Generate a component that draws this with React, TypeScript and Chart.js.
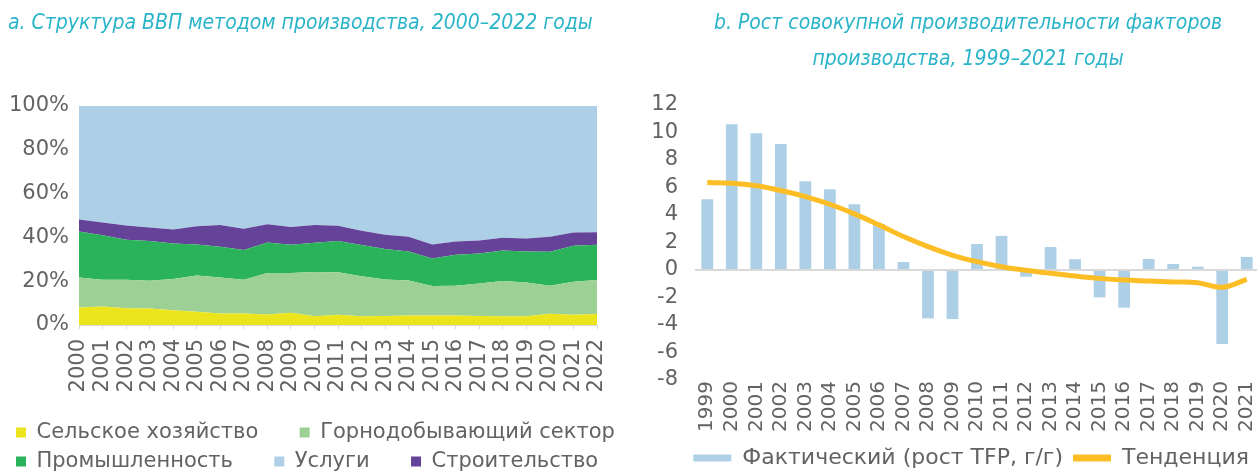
import React, { useEffect, useRef } from "react";
import { Chart, registerables } from "chart.js";

Chart.register(...registerables);

// ---------- Chart a: GDP structure (shares, %) ----------
const YEARS_A = [
  "2000", "2001", "2002", "2003", "2004", "2005", "2006", "2007", "2008", "2009", "2010", "2011",
  "2012", "2013", "2014", "2015", "2016", "2017", "2018", "2019", "2020", "2021", "2022",
];
const AGRICULTURE = [8.0, 8.5, 7.7, 7.5, 6.7, 6.1, 5.2, 5.2, 4.8, 5.6, 4.0, 4.7, 4.0, 4.1, 4.3, 4.3, 4.3, 4.1, 4.0, 4.0, 5.1, 4.7, 5.0];
const MINING = [13.7, 12.2, 13.0, 12.7, 14.3, 16.5, 16.5, 15.5, 19.0, 18.1, 20.2, 19.4, 18.3, 16.7, 16.0, 13.5, 13.6, 14.9, 16.1, 15.4, 12.8, 15.0, 15.6];
const INDUSTRY = [21.0, 20.3, 18.2, 18.1, 16.2, 14.2, 14.0, 13.5, 13.9, 12.9, 13.4, 14.2, 14.2, 13.9, 13.3, 12.6, 14.2, 13.7, 13.9, 14.2, 15.5, 16.5, 16.0];
const CONSTRUCTION = [5.5, 5.8, 6.5, 6.2, 6.4, 8.3, 10.0, 9.7, 8.3, 8.1, 8.1, 7.0, 6.5, 6.5, 6.7, 6.4, 6.0, 5.9, 5.8, 5.9, 6.9, 6.0, 5.8];
const SERVICES = [51.8, 53.2, 54.6, 55.5, 56.4, 54.9, 54.3, 56.1, 54.0, 55.3, 54.3, 54.7, 57.0, 58.8, 59.7, 63.2, 61.9, 61.4, 60.2, 60.5, 59.7, 57.8, 57.6];
const SHARE_MIN = 0;
const SHARE_MAX = 100;
const SHARE_STEP = 20;

// ---------- Chart b: TFP growth ----------
const YEARS_B = [
  "1999", "2000", "2001", "2002", "2003", "2004", "2005", "2006", "2007", "2008", "2009", "2010",
  "2011", "2012", "2013", "2014", "2015", "2016", "2017", "2018", "2019", "2020", "2021",
];
const TFP_ACTUAL = [5.15, 10.6, 9.95, 9.17, 6.46, 5.87, 4.78, 3.35, 0.58, -3.52, -3.57, 1.89, 2.48, -0.49, 1.67, 0.78, -1.99, -2.74, 0.8, 0.44, 0.24, -5.39, 0.95];
const TFP_TREND = [6.36, 6.31, 6.12, 5.78, 5.34, 4.78, 4.08, 3.28, 2.43, 1.7, 1.07, 0.61, 0.24, -0.02, -0.24, -0.44, -0.61, -0.73, -0.8, -0.87, -0.92, -1.26, -0.68];
const TFP_MIN = -8;
const TFP_MAX = 12;
const TFP_STEP = 2;

const TITLE_A = "a. Структура ВВП методом производства, 2000–2022 годы";
const TITLE_B = ["b. Рост совокупной производительности факторов", "производства, 1999–2021 годы"];

const TEXT_FONT = "'DejaVu Sans', 'Noto Sans', sans-serif";
const TITLE_FONT = "'Liberation Sans Narrow', 'DejaVu Sans Condensed', 'Roboto', sans-serif";
const TEXT_COLOR = "#636363";
const TITLE_COLOR = "#2ab4c9";

const C_YELLOW = "#ece51e";
const C_MINING = "#9dd094";
const C_INDUSTRY = "#2bb35b";
const C_CONSTR = "#654399";
const C_SERVICES = "#aed0e7";
const C_BAR = "#aed0e7";
const C_TREND = "#fdbd24";

if (typeof document !== "undefined") {
  document.body.style.margin = "0";
}

const LEGEND_ORDER_A = [0, 1, 2, 4, 3];
const ROW_GAP_ITEMS_A = [0, 2, 4];
const NBSP = "\u00a0\u00a0\u00a0\u00a0\u00a0";

function ChartA() {
  const ref = useRef<HTMLCanvasElement | null>(null);
  useEffect(() => {
    if (!ref.current) return;
    const base = { borderWidth: 0, pointRadius: 0, pointHoverRadius: 0, tension: 0 };
    const chart = new Chart(ref.current, {
      type: "line",
      data: {
        labels: YEARS_A,
        datasets: [
          { ...base, label: "Сельское хозяйство", data: AGRICULTURE, backgroundColor: C_YELLOW, borderColor: C_YELLOW, fill: "origin" },
          { ...base, label: "Горнодобывающий сектор", data: MINING, backgroundColor: C_MINING, borderColor: C_MINING, fill: "-1" },
          { ...base, label: "Промышленность", data: INDUSTRY, backgroundColor: C_INDUSTRY, borderColor: C_INDUSTRY, fill: "-1" },
          { ...base, label: "Строительство", data: CONSTRUCTION, backgroundColor: C_CONSTR, borderColor: C_CONSTR, fill: "-1" },
          { ...base, label: "Услуги", data: SERVICES, backgroundColor: C_SERVICES, borderColor: C_SERVICES, fill: "-1" },
        ],
      },
      options: {
        responsive: false,
        animation: false,
        layout: { padding: { left: 8, right: 0, top: 0, bottom: 0 } },
        scales: {
          x: {
            offset: false,
            grid: { display: true, drawOnChartArea: false, drawTicks: true, tickLength: 4, color: "#d9d9d9" },
            border: { display: true, color: "#d9d9d9" },
            ticks: { autoSkip: false, maxRotation: 90, minRotation: 90, padding: 10, color: TEXT_COLOR, font: { family: TEXT_FONT, size: 21 } },
            afterFit: (s: any) => { s.height = 89; },
          },
          y: {
            stacked: true,
            min: SHARE_MIN,
            max: SHARE_MAX,
            grid: { display: false, drawTicks: false },
            border: { display: false },
            ticks: { autoSkip: false, stepSize: SHARE_STEP, padding: 10, color: TEXT_COLOR, font: { family: TEXT_FONT, size: 21 }, callback: (v: any) => v + "%" },
            afterFit: (s: any) => { s.width = 71; },
          },
          yRight: {
            position: "right",
            display: true,
            min: SHARE_MIN,
            max: SHARE_MAX,
            grid: { display: false, drawTicks: false },
            border: { display: false },
            ticks: { display: false },
            afterFit: (s: any) => { s.width = 48; },
          },
        },
        plugins: {
          tooltip: { enabled: false },
          title: {
            display: true,
            text: TITLE_A,
            align: "start",
            color: TITLE_COLOR,
            font: { family: TITLE_FONT, size: 21, style: "italic", weight: "normal", lineHeight: 1.714 },
            padding: { top: 6, bottom: 64 },
          },
          legend: {
            position: "bottom",
            align: "start",
            labels: {
              boxWidth: 10,
              boxHeight: 10,
              padding: 8,
              color: TEXT_COLOR,
              font: { family: TEXT_FONT, size: 21 },
              sort: (a: any, b: any) => LEGEND_ORDER_A.indexOf(a.datasetIndex) - LEGEND_ORDER_A.indexOf(b.datasetIndex),
              generateLabels: (ch: any) =>
                (Chart.defaults.plugins.legend.labels.generateLabels as any)(ch).map((it: any) => ({
                  ...it,
                  text: ROW_GAP_ITEMS_A.includes(it.datasetIndex) ? it.text + NBSP : it.text,
                  lineWidth: 0,
                  strokeStyle: "rgba(0,0,0,0)",
                })),
            },
          },
        },
      } as any,
    });
    return () => chart.destroy();
  }, []);
  return <canvas ref={ref} width={645} height={482} style={{ display: "block" }} />;
}

const shiftTitle = {
  id: "shiftTitle",
  afterLayout(chart: any) {
    const t = chart.titleBlock;
    if (t) {
      t.left = 39;
      t.right = 617;
    }
  },
};

function ChartB() {
  const ref = useRef<HTMLCanvasElement | null>(null);
  useEffect(() => {
    if (!ref.current) return;
    const chart = new Chart(ref.current, {
      type: "bar",
      data: {
        labels: YEARS_B,
        datasets: [
          {
            type: "bar",
            label: "Фактический (рост TFP, г/г)",
            data: TFP_ACTUAL,
            backgroundColor: C_BAR,
            borderWidth: 0,
            barPercentage: 0.48,
            categoryPercentage: 1,
            order: 1,
          },
          {
            type: "line",
            label: "Тенденция",
            data: TFP_TREND,
            borderColor: C_TREND,
            backgroundColor: C_TREND,
            borderWidth: 5,
            pointRadius: 0,
            pointHoverRadius: 0,
            tension: 0.4,
            fill: false,
            order: 0,
          },
        ],
      },
      options: {
        responsive: false,
        animation: false,
        layout: { padding: { left: 0, right: 3, top: 0, bottom: 0 } },
        scales: {
          x: {
            grid: { display: false, drawTicks: false },
            border: { display: false },
            ticks: { autoSkip: false, maxRotation: 90, minRotation: 90, padding: 1, color: TEXT_COLOR, font: { family: TEXT_FONT, size: 20 } },
            afterFit: (s: any) => {
              s.height = 57;
              s.paddingLeft = 0;
              s.paddingRight = 0;
            },
          },
          y: {
            min: TFP_MIN,
            max: TFP_MAX,
            grid: {
              drawTicks: false,
              lineWidth: 2,
              color: (c: any) => (c.tick && c.tick.value === 0 ? "#d9d9d9" : "rgba(0,0,0,0)"),
            },
            border: { display: false },
            ticks: { autoSkip: false, stepSize: TFP_STEP, padding: 17, color: TEXT_COLOR, font: { family: TEXT_FONT, size: 21 } },
            afterFit: (s: any) => { s.width = 55; },
          },
        },
        plugins: {
          tooltip: { enabled: false },
          title: {
            display: true,
            text: TITLE_B,
            align: "center",
            color: TITLE_COLOR,
            font: { family: TITLE_FONT, size: 21, style: "italic", weight: "normal", lineHeight: 1.714 },
            padding: { top: 6, bottom: 27 },
          },
          legend: {
            position: "bottom",
            align: "end",
            labels: {
              boxWidth: 38,
              boxHeight: 7,
              padding: 10,
              color: TEXT_COLOR,
              font: { family: TEXT_FONT, size: 22 },
              sort: (a: any, b: any) => a.datasetIndex - b.datasetIndex,
              generateLabels: (ch: any) =>
                (Chart.defaults.plugins.legend.labels.generateLabels as any)(ch).map((it: any) => ({
                  ...it,
                  lineWidth: 0,
                  strokeStyle: "rgba(0,0,0,0)",
                })),
            },
          },
        },
      } as any,
      plugins: [shiftTitle],
    });
    return () => chart.destroy();
  }, []);
  return <canvas ref={ref} width={622} height={479} style={{ display: "block" }} />;
}

export default function App() {
  return (
    <div style={{ position: "relative", width: 1257, height: 474, overflow: "hidden", background: "#ffffff" }}>
      <div style={{ position: "absolute", left: 0, top: 0, width: 645, height: 482 }}>
        <ChartA />
      </div>
      <div style={{ position: "absolute", left: 640, top: 0, width: 622, height: 479 }}>
        <ChartB />
      </div>
    </div>
  );
}
